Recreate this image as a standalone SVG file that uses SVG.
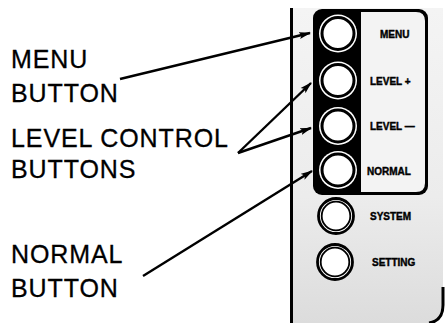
<svg xmlns="http://www.w3.org/2000/svg" width="445" height="323" viewBox="0 0 445 323">
<defs>
<style>
.lbl{font-family:"Liberation Sans",Arial,sans-serif;font-size:25px;letter-spacing:0.9px;fill:#000;stroke:#000;stroke-width:0.3}
.pl{font-family:"Liberation Sans",Arial,sans-serif;font-size:10px;font-weight:bold;fill:#000;stroke:#000;stroke-width:0.4}
.lead{stroke:#000;stroke-width:2.4;fill:none;marker-end:url(#ah)}
.ring{fill:#fff}
.btnA{fill:#fff;stroke:#000;stroke-width:3}
</style>
<marker id="ah" viewBox="0 0 12 8" refX="11" refY="4" markerWidth="12" markerHeight="8" markerUnits="userSpaceOnUse" orient="auto">
<path d="M0,0.5 L12,4 L0,7.5 L2.5,4 Z" fill="#000"/>
</marker>
<linearGradient id="bg" x1="0" y1="0" x2="0" y2="1">
<stop offset="0" stop-color="#f4f4f4"/>
<stop offset="0.6" stop-color="#ececec"/>
<stop offset="1" stop-color="#dcdcdc"/>
</linearGradient>
</defs>
<rect width="445" height="323" fill="#fff"/>
<g id="panel-bg">
<path d="M292,8 L443,8 L443,305 Q443,323 428,323 L292,323 Z" fill="url(#bg)"/>
<line x1="291.5" y1="8" x2="291.5" y2="323" stroke="#000" stroke-width="3"/>
<path d="M443,287 L443,305 Q443,321 429,323" stroke="#000" stroke-width="3" fill="none"/>
</g>
<g id="panel">
<rect x="313" y="9" width="115" height="186" rx="9" fill="#000"/>
<path d="M361,12 L416,12 Q425,12 425,21 L425,183 Q425,192 416,192 L361,192 Z" fill="#f3f3f3"/>
</g>
<g id="btn-menu"><circle class="ring" cx="338" cy="33.5" r="19"/><circle class="btnA" cx="338" cy="33.5" r="16"/><text class="pl" x="380" y="38">MENU</text></g>
<g id="btn-level-plus"><circle class="ring" cx="338" cy="80.5" r="19"/><circle class="btnA" cx="338" cy="80.5" r="16"/><text class="pl" x="370" y="85">LEVEL +</text></g>
<g id="btn-level-minus"><circle class="ring" cx="338" cy="126" r="19"/><circle class="btnA" cx="338" cy="126" r="16"/><text class="pl" x="370" y="130">LEVEL —</text></g>
<g id="btn-normal"><circle class="ring" cx="338" cy="170" r="19"/><circle class="btnA" cx="338" cy="170" r="16"/><text class="pl" x="367" y="175">NORMAL</text></g>
<g id="btn-system"><circle cx="336" cy="216" r="17.5" fill="#fff" stroke="#000" stroke-width="2.8"/><circle cx="336" cy="216" r="14.3" fill="none" stroke="#000" stroke-width="1.8"/><text class="pl" x="370" y="220">SYSTEM</text></g>
<g id="btn-setting"><circle cx="335" cy="262" r="17.5" fill="#fff" stroke="#000" stroke-width="2.8"/><circle cx="335" cy="262" r="14.3" fill="none" stroke="#000" stroke-width="1.8"/><text class="pl" x="372" y="266">SETTING</text></g>
<g id="label-menu"><text class="lbl" x="11" y="68">MENU</text><text class="lbl" x="11" y="102">BUTTON</text></g>
<g id="label-level"><text class="lbl" x="11" y="146.5">LEVEL CONTROL</text><text class="lbl" x="11" y="178">BUTTONS</text></g>
<g id="label-normal"><text class="lbl" x="11" y="263">NORMAL</text><text class="lbl" x="11" y="297">BUTTON</text></g>
<g id="connectors">
<line class="lead" x1="120" y1="79" x2="310" y2="33"/>
<line class="lead" x1="238" y1="153" x2="311" y2="83"/>
<line class="lead" x1="238" y1="153" x2="311" y2="128"/>
<line class="lead" x1="143" y1="276" x2="312" y2="171"/>
</g>
</svg>
